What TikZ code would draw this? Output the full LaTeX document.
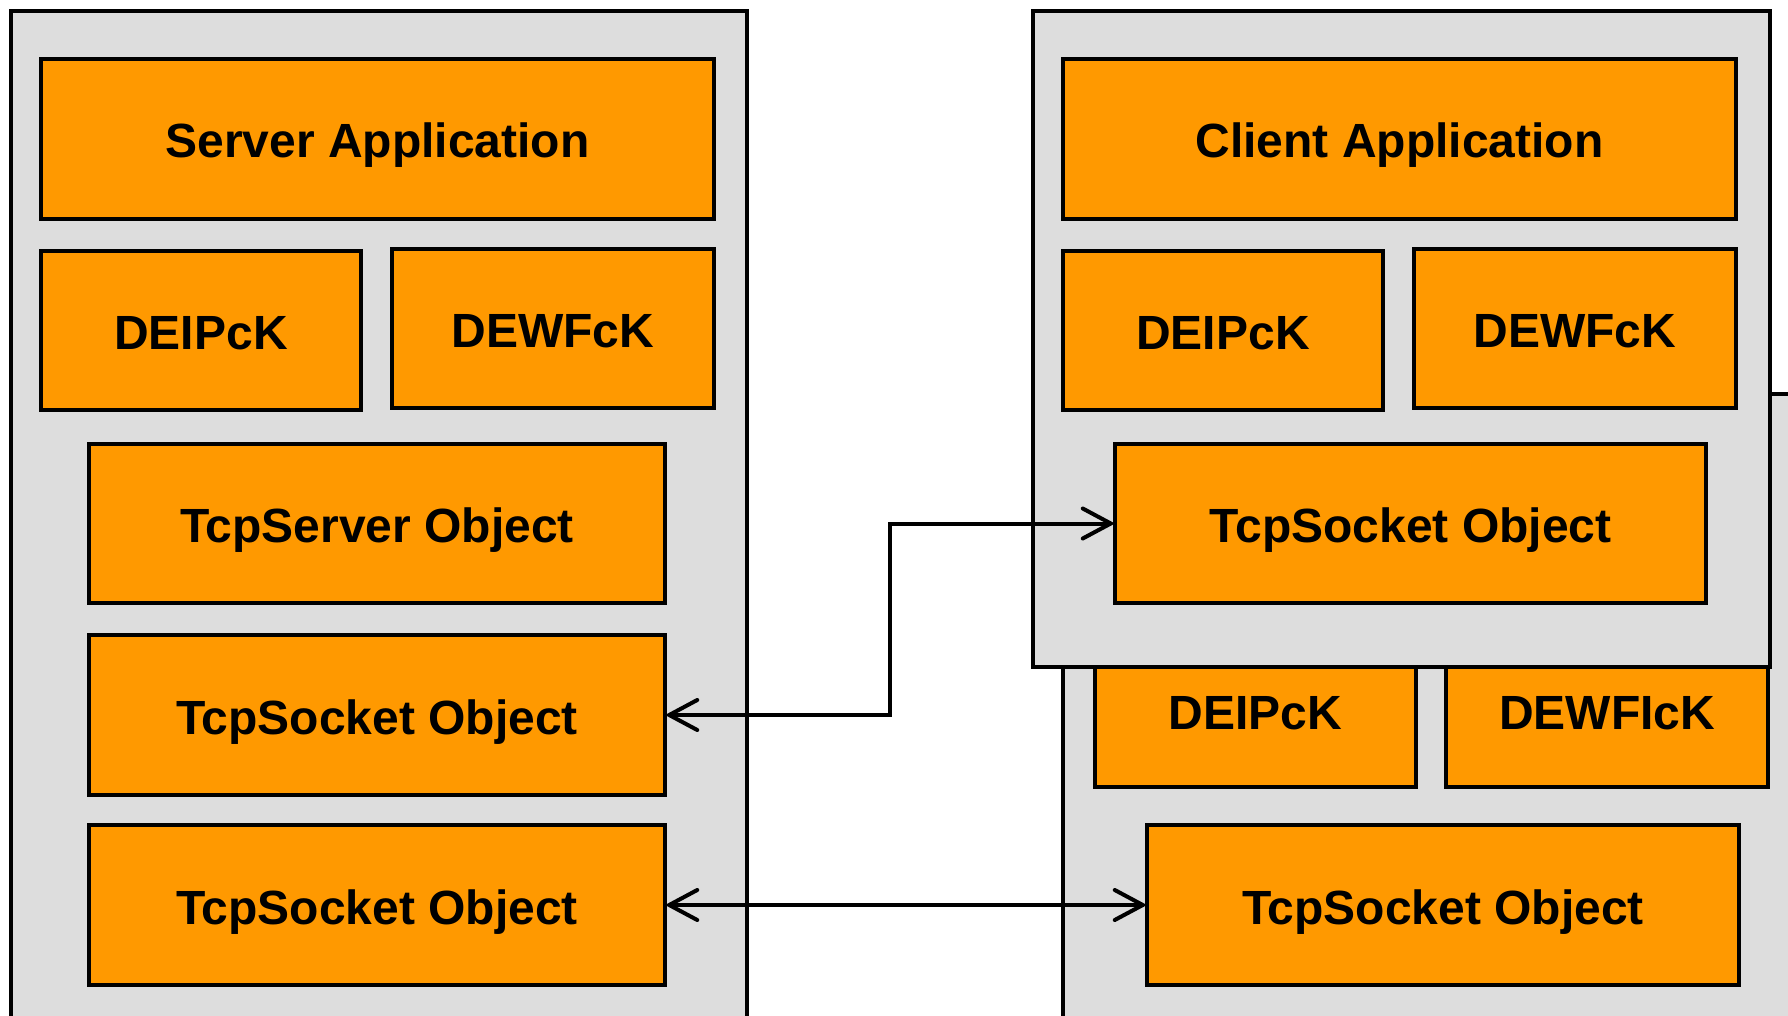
\documentclass[tikz,border=0pt]{standalone}
\usepackage{fontspec}
\setmainfont{Liberation Sans}
\usetikzlibrary{arrows.meta}
\definecolor{boxorange}{HTML}{FF9900}
\definecolor{panelgray}{HTML}{DDDDDD}
\begin{document}
\begin{tikzpicture}[x=1pt,y=-1pt,
  sz/.style 2 args={minimum width=#1pt, minimum height=#2pt},
  panel/.style={draw=black, fill=panelgray, line width=4.5pt, anchor=north west,
    inner sep=0pt, outer sep=0pt},
  block/.style={draw=black, fill=boxorange, line width=4.5pt, anchor=north west,
    inner sep=0pt, outer sep=0pt, text height=38pt, text depth=0pt,
    font=\fontsize{48}{57}\selectfont\bfseries},
  conn/.style={line width=4pt,
    {Straight Barb[length=28pt, width=30pt, line cap=round]}-{Straight Barb[length=28pt, width=30pt, line cap=round]}}
]
\useasboundingbox (0,0) rectangle (1788,1016);
\clip (0,0) rectangle (1788,1016);

% server stack
\node[panel, sz={736}{1040}] (srv) at (11,11) {};
\node[block, sz={673}{160}] (sapp)   at (41,59)   {Server Application};
\node[block, sz={320}{159}] (sipc)   at (41,251)  {DEIPcK};
\node[block, sz={322}{159}] (swf)    at (392,249) {DEWFcK};
\node[block, sz={576}{159}] (tsrv)   at (89,444)  {TcpServer Object};
\node[block, sz={576}{160}] (ssock1) at (89,635)  {TcpSocket Object};
\node[block, sz={576}{160}] (ssock2) at (89,825)  {TcpSocket Object};

% second client, partly hidden behind the first
\node[panel, sz={760}{700}] (cback) at (1063,394) {};
\node[block, sz={321}{153}] (bipc)  at (1095,634) {DEIPcK};
\node[block, sz={322}{153}] (bwf)   at (1446,634) {DEWFIcK};
\node[block, sz={592}{160}] (bsock) at (1147,825) {TcpSocket Object};

% first client
\node[panel, sz={737}{656}] (cfront) at (1033,11) {};
\node[block, sz={673}{160}] (capp)  at (1063,59)  {Client Application};
\node[block, sz={320}{159}] (cipc)  at (1063,251) {DEIPcK};
\node[block, sz={322}{159}] (cwf)   at (1414,249) {DEWFcK};
\node[block, sz={591}{159}] (csock) at (1115,444) {TcpSocket Object};

% connections
\coordinate (jog) at (890,0);
\draw[conn] (ssock1.east) -- (ssock1.east -| jog) |- (csock.west);
\draw[conn] (ssock2.east) -- (bsock.west);
\end{tikzpicture}
\end{document}
